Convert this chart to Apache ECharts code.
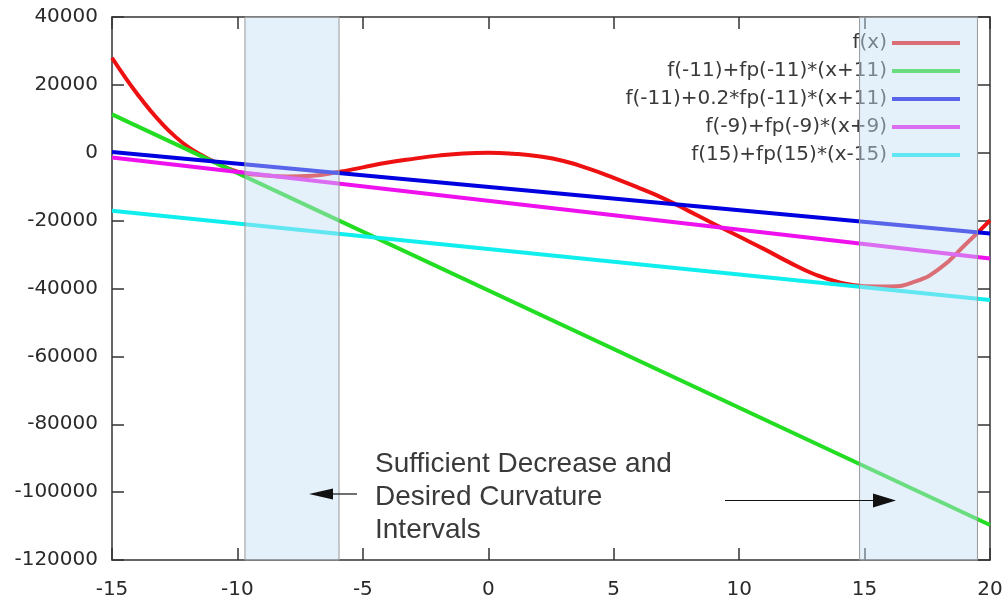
<!DOCTYPE html>
<html>
<head>
<meta charset="utf-8">
<script src="https://cdn.jsdelivr.net/npm/echarts@6/dist/echarts.min.js"></script>
<style>html,body{margin:0;padding:0;background:#fff;}#c{width:1008px;height:600px;}</style>
</head>
<body>
<div id="c"></div>
<script>
// ---- data ----
const fxX = [-15, -14.5, -14, -13.5, -13, -12.5, -12, -11.5, -11, -10, -9, -8, -7, -6, -5, -4, -3, -2, -1, 0, 1, 2, 3, 4, 5, 6, 7, 8, 9, 10, 11, 12, 13, 14, 15, 16, 17, 18, 19, 20];
const fxY = [28000, 22500, 17400, 12700, 8500, 4900, 1900, -400, -2400, -5600, -6600, -7000, -6800, -5700, -4300, -2900, -1800, -850, -200, 0, -300, -1050, -2450, -4700, -7400, -10350, -13500, -17200, -21000, -24700, -28400, -32300, -35800, -38200, -39300, -39400, -38000, -34100, -27200, -19900];
const lineX = [-15, 20];
const tangent11 = [11300, -109700];     // f(-11)+fp(-11)*(x+11)
const tangent11w = [240, -23800];       // f(-11)+0.2*fp(-11)*(x+11)
const tangent9 = [-1400, -31150];       // f(-9)+fp(-9)*(x+9)
const tangent15 = [-17100, -43400];     // f(15)+fp(15)*(x-15)
const seriesNames = ['f(x)', 'f(-11)+fp(-11)*(x+11)', 'f(-11)+0.2*fp(-11)*(x+11)', 'f(-9)+fp(-9)*(x+9)', 'f(15)+fp(15)*(x-15)'];
const intervals = [[-9.7, -5.95], [14.8, 19.5]];
const yTop = 40600, yBottom = -120000;
const noteText = ['Sufficient Decrease and', 'Desired Curvature', 'Intervals'];

const pairs = (xs, ys) => xs.map((x, i) => [x, ys[i]]);
const colors = ['#ee1111', '#22dd22', '#0000e0', '#ee11ee', '#11eeee'];

const chart = echarts.init(document.getElementById('c'), null, {renderer: 'canvas'});
const labelFont = {fontFamily: 'DejaVu Sans', fontSize: 20, color: '#2a2a2a', formatter: v => String(v)};
const axisLine = {show: true, onZero: false, lineStyle: {color: '#333', width: 1.5}};
const tick = {show: true, inside: true, length: 12, lineStyle: {color: '#333', width: 1.5}};

const lineSeries = (name, data, color, smooth) => ({
  name, type: 'line', data, smooth: smooth || false, showSymbol: false, symbol: 'none',
  lineStyle: {color, width: 4}, itemStyle: {color}, z: 2, animation: false
});

chart.setOption({
  animation: false,
  backgroundColor: '#fff',
  grid: {left: 112, right: 18, top: 17, bottom: 40, containLabel: false},
  xAxis: [
    {type: 'value', min: -15, max: 20, interval: 5, position: 'bottom',
     axisLine, axisTick: tick, splitLine: {show: false},
     axisLabel: Object.assign({margin: 20}, labelFont)},
    {type: 'value', min: -15, max: 20, interval: 5, position: 'top',
     axisLine, axisTick: tick, splitLine: {show: false}, axisLabel: {show: false}}
  ],
  yAxis: [
    {type: 'value', min: -120000, max: 40000, interval: 20000, position: 'left',
     axisLine, axisTick: tick, splitLine: {show: false},
     axisLabel: Object.assign({margin: 14}, labelFont)},
    {type: 'value', min: -120000, max: 40000, interval: 20000, position: 'right',
     axisLine, axisTick: tick, splitLine: {show: false}, axisLabel: {show: false}}
  ],
  legend: {
    data: seriesNames, orient: 'vertical', align: 'right', right: 43, top: 28,
    itemWidth: 68, itemHeight: 4, itemGap: 8, icon: 'rect',
    textStyle: {fontFamily: 'DejaVu Sans', fontSize: 20, color: '#3a3a3a', lineHeight: 20},
    selectedMode: false, z: 4
  },
  series: [
    lineSeries(seriesNames[0], pairs(fxX, fxY), colors[0], 0.5),
    lineSeries(seriesNames[1], pairs(lineX, tangent11), colors[1]),
    lineSeries(seriesNames[2], pairs(lineX, tangent11w), colors[2]),
    lineSeries(seriesNames[3], pairs(lineX, tangent9), colors[3]),
    lineSeries(seriesNames[4], pairs(lineX, tangent15), colors[4]),
    {
      name: 'intervals', type: 'line', data: [], clip: false, z: 10, silent: true,
      markArea: {
        silent: true, z: 10,
        itemStyle: {color: 'rgba(195,222,243,0.45)', borderColor: '#9a9a9a', borderWidth: 1},
        data: intervals.map(r => [{xAxis: r[0], yAxis: yTop}, {xAxis: r[1], yAxis: yBottom}])
      }
    }
  ],
  graphic: [
    {type: 'text', left: 375, top: 448, z: 20,
     style: {text: noteText.join('\n'), fontFamily: 'Liberation Sans', fontSize: 28, lineHeight: 33, fill: '#3a3a3a'}},
    {type: 'line', z: 20, shape: {x1: 333, y1: 494, x2: 357, y2: 494}, style: {stroke: '#111', lineWidth: 1.2}},
    {type: 'polygon', z: 20, shape: {points: [[309, 494], [333, 488.5], [333, 499.5]]}, style: {fill: '#111'}},
    {type: 'line', z: 20, shape: {x1: 725, y1: 500.5, x2: 874, y2: 500.5}, style: {stroke: '#111', lineWidth: 1.2}},
    {type: 'polygon', z: 20, shape: {points: [[896, 500.5], [873, 493.5], [873, 507.5]]}, style: {fill: '#111'}}
  ]
});
</script>
</body>
</html>
